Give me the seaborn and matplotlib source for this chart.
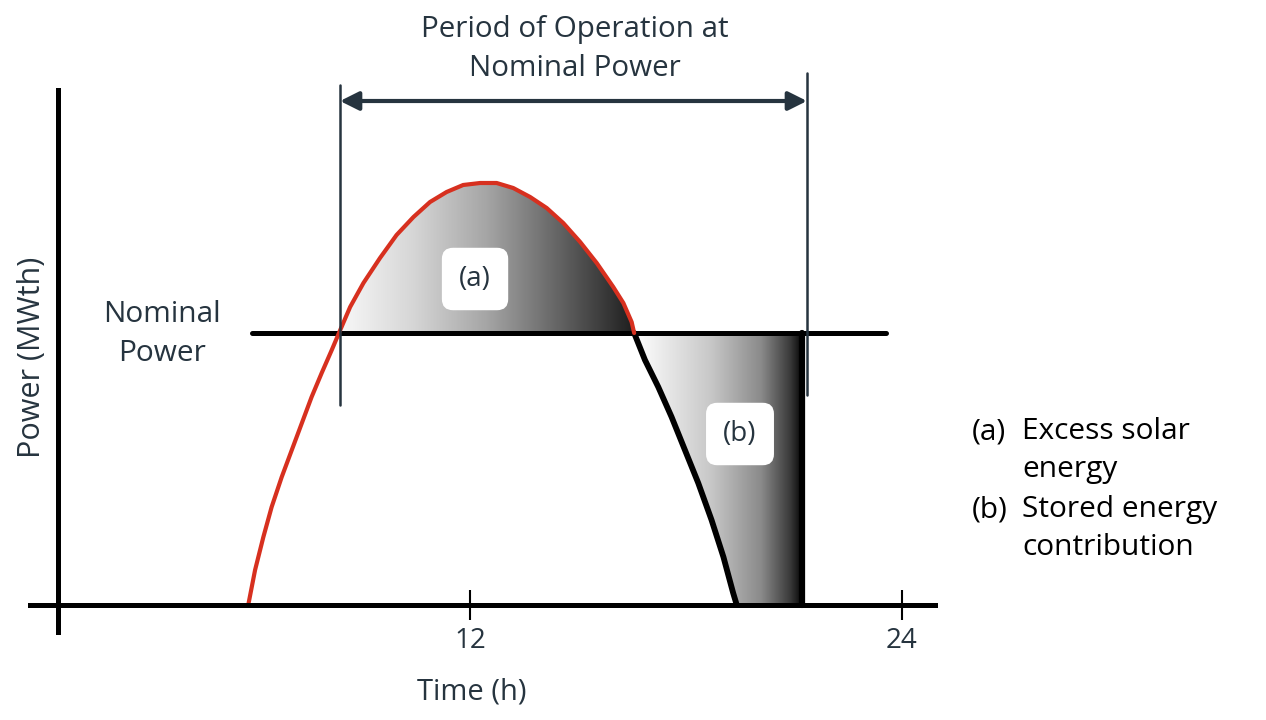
import numpy as np
import pandas as pd
import matplotlib.pyplot as plt
import seaborn as sns
from matplotlib.colors import LinearSegmentedColormap

# Solar power curve (hour of day, power in arbitrary units)
rise_hours = [5.84, 6.03, 6.26, 6.49, 6.77, 7.05, 7.33, 7.60, 7.88, 8.16, 8.36,
              8.67, 9.04, 9.50, 9.96, 10.43, 10.89, 11.35, 11.81, 12.28, 12.74,
              13.20, 13.67, 14.13, 14.59, 15.06, 15.52, 15.98, 16.26, 16.49, 16.56]
rise_power = [0.00, 0.35, 0.68, 0.98, 1.28, 1.55, 1.82, 2.08, 2.32, 2.55, 2.72,
              2.98, 3.22, 3.47, 3.70, 3.88, 4.03, 4.13, 4.20, 4.22, 4.22,
              4.17, 4.08, 3.97, 3.82, 3.63, 3.42, 3.18, 3.02, 2.83, 2.72]
fall_hours = [16.56, 16.86, 17.23, 17.60, 17.97, 18.34, 18.71, 19.04, 19.31, 19.41]
fall_power = [2.72, 2.45, 2.18, 1.88, 1.55, 1.22, 0.85, 0.48, 0.12, 0.00]

nominal_power = 2.72
nominal_span = [5.94, 23.56]
period_start = 8.39
period_end = 21.36
storage_end = 21.28
x_ticks = [12, 24]

title_text = "Period of Operation at\nNominal Power"
legend_keys = ["(a)", "(b)"]
legend_texts = ["Excess solar\nenergy", "Stored energy\ncontribution"]

slate = "#26343f"
red = "#d7301f"

rise = pd.DataFrame({"hour": rise_hours, "power": rise_power})
fall = pd.DataFrame({"hour": fall_hours, "power": fall_power})

sns.set_style("white")
plt.rcParams["font.family"] = ["Open Sans", "DejaVu Sans"]

fig = plt.figure(figsize=(12.66, 7.2), dpi=100)
ax = fig.add_axes([0, 0, 1, 1])
# map: 36 px per hour (0 h at 38 px), 100 px per power unit (0 at 605 px)
ax.set_xlim(-38 / 36, (1266 - 38) / 36)
ax.set_ylim((605 - 720) / 100, 605 / 100)

# gradient shaded regions
grad = np.linspace(0, 1, 256).reshape(1, -1)
cmap_a = LinearSegmentedColormap.from_list("a", ["#f8f8f8", "#d6d6d6", "#a5a5a5", "#626262", "#1e1e1e"])
cmap_b = LinearSegmentedColormap.from_list("b", [(0, "#ffffff"), (0.45, "#c8c8c8"),
                                                 (0.75, "#8a8a8a"), (0.92, "#3a3a3a"), (1, "#000000")])

excess = rise[rise["power"] >= nominal_power]
poly_a = ax.fill_between(excess["hour"], nominal_power, excess["power"], color="none")
img_a = ax.imshow(grad, cmap=cmap_a, aspect="auto", zorder=1,
                  extent=[excess["hour"].min(), excess["hour"].max(), nominal_power, rise["power"].max()])
img_a.set_clip_path(poly_a.get_paths()[0], transform=ax.transData)

b_x = fall_hours + [storage_end, storage_end]
b_y = fall_power + [0, nominal_power]
poly_b = ax.fill(b_x, b_y, color="none")[0]
img_b = ax.imshow(grad, cmap=cmap_b, aspect="auto", zorder=1,
                  extent=[fall_hours[0], storage_end, 0, nominal_power])
img_b.set_clip_path(poly_b)
ax.plot([storage_end - 0.05, storage_end - 0.05], [0, nominal_power], color="black", lw=4.5, zorder=2)

# nominal power line
ax.plot(nominal_span, [nominal_power, nominal_power], color="black", lw=3.6, zorder=3)

# solar curve
sns.lineplot(data=fall, x="hour", y="power", color="black", lw=4.2, ax=ax, zorder=4,
             estimator=None, sort=False, solid_joinstyle="round", solid_capstyle="round")
sns.lineplot(data=rise, x="hour", y="power", color=red, lw=3.0, ax=ax, zorder=5,
             estimator=None, sort=False, solid_joinstyle="round")

# period of operation markers
ax.plot([period_start, period_start], [2.0, 5.2], color=slate, lw=1.8, zorder=6)
ax.plot([period_end, period_end], [2.1, 5.32], color=slate, lw=1.8, zorder=6)
ax.annotate("", xy=(period_end, 5.04), xytext=(period_start, 5.04),
            arrowprops=dict(arrowstyle="<|-|>", color=slate, lw=3, mutation_scale=28,
                            shrinkA=0, shrinkB=0), zorder=6)
ax.text(14.92, 5.56, title_text, ha="center", va="center", fontsize=21.3,
        color=slate, linespacing=1.42)

ax.text(3.44, 2.71, "Nominal\nPower", ha="center", va="center", fontsize=21.5,
        color=slate, linespacing=1.42)

box = dict(boxstyle="round,pad=0.62,rounding_size=0.4", fc="white", ec="none")
ax.text(12.14, 3.26, "(a)", ha="center", va="center", fontsize=20, color=slate, bbox=box, zorder=7)
ax.text(19.5, 1.71, "(b)", ha="center", va="center", fontsize=20, color=slate, bbox=box, zorder=7)

# legend notes on the right
for i, (key, txt) in enumerate(zip(legend_keys, legend_texts)):
    top = 1.88 - i * 0.78
    ax.text(25.94, top, key, ha="left", va="top", fontsize=21.5, color="black")
    ax.text(27.33, top, txt, ha="left", va="top", fontsize=21.5, color="black", linespacing=1.4)

# axes drawn with spines
for side in ["top", "right"]:
    ax.spines[side].set_visible(False)
ax.spines["left"].set_position(("data", 0.56))
ax.spines["left"].set_bounds(-0.27, 5.15)
ax.spines["bottom"].set_position(("data", 0))
ax.spines["bottom"].set_bounds(-0.22, 24.92)
for side in ["left", "bottom"]:
    ax.spines[side].set_linewidth(3.6)
    ax.spines[side].set_color("black")
    ax.spines[side].set_zorder(8)

ax.set_xticks(x_ticks)
ax.set_xticklabels([str(t) for t in x_ticks])
ax.set_yticks([])
ax.tick_params(axis="x", direction="inout", length=22, width=1.5, color="black",
               labelsize=20, labelcolor=slate, pad=5, bottom=True)

ax.set_xlabel("Time (h)", fontsize=21, color=slate, va="center")
ax.xaxis.set_label_coords(472 / 1266, 1 - 692 / 720)
ax.set_ylabel("Power (MWth)", fontsize=22, color=slate, va="center")
ax.yaxis.set_label_coords(32 / 1266, 1 - 357 / 720)

fig.savefig("out.png", dpi=100)
